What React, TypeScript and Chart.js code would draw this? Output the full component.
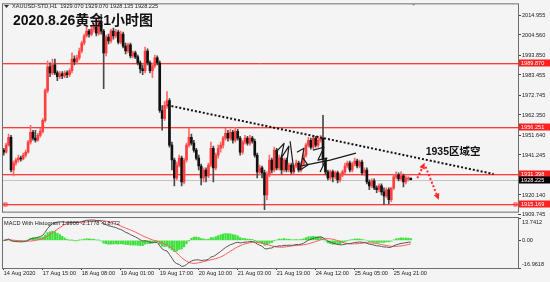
import { useEffect, useRef } from "react";
import { Chart, registerables } from "chart.js";
Chart.register(...registerables);

// ---------- data (XAUUSD H1) ----------
const OPEN = [
  1943.8, 1942.7, 1946.4, 1950.6, 1933.3, 1937.0, 1938.6, 1939.6, 1939.1, 1941.2,
  1942.7, 1948.0, 1953.2, 1950.1, 1949.0, 1951.6, 1953.7, 1959.5, 1975.2, 1987.7,
  1984.6, 1988.8, 1984.6, 1982.5, 1984.1, 1983.0, 1984.6, 1983.6, 1985.7, 1991.9,
  1990.4, 1992.5, 1996.1, 2000.3, 2004.0, 2006.6, 2005.0, 2007.6, 2008.7, 2005.5,
  2011.8, 2006.6, 1995.1, 2003.4, 2001.4, 2006.6, 2004.0, 2006.1, 2000.8, 2005.0,
  1998.7, 1996.1, 1999.3, 1993.5, 1995.1, 1993.0, 1989.8, 1986.7, 1985.7, 1996.1,
  1989.8, 1985.7, 1988.3, 1992.5, 1989.8, 1964.7, 1960.5, 1967.3, 1970.0, 1946.4,
  1938.6, 1929.1, 1935.9, 1939.6, 1927.0, 1938.6, 1946.4, 1950.6, 1947.5, 1943.8,
  1939.6, 1935.4, 1929.1, 1933.3, 1930.2, 1935.9, 1944.8, 1934.4, 1941.2, 1944.8,
  1946.4, 1950.1, 1952.7, 1950.1, 1953.2, 1949.0, 1953.7, 1950.1, 1942.7, 1948.0,
  1950.1, 1947.5, 1950.1, 1948.5, 1941.2, 1932.3, 1934.4, 1931.8, 1920.2, 1930.7,
  1938.6, 1933.3, 1943.8, 1934.4, 1939.6, 1933.3, 1938.6, 1933.3, 1935.9, 1932.3,
  1935.4, 1937.0, 1933.3, 1936.5, 1941.2, 1946.4, 1949.0, 1945.4, 1950.1, 1946.4,
  1949.0, 1950.1, 1938.6, 1932.3, 1929.1, 1932.3, 1929.7, 1931.8, 1928.1, 1930.7,
  1932.3, 1935.4, 1937.0, 1933.3, 1936.5, 1938.0, 1935.4, 1937.5, 1931.8, 1933.3,
  1927.0, 1924.9, 1927.6, 1923.9, 1922.9, 1924.9, 1921.8, 1919.7, 1922.9, 1917.6,
  1923.9, 1929.7, 1930.7, 1928.6, 1930.2, 1927.0, 1928.6, 1929.07,
];
const HIGH = [
  1944.8, 1947.5, 1952.2, 1951.6, 1938.0, 1939.6, 1941.2, 1940.7, 1942.2, 1943.8,
  1949.0, 1956.9, 1954.3, 1954.3, 1952.7, 1955.3, 1960.5, 1976.2, 1990.9, 1989.8,
  1991.9, 1991.9, 1985.7, 1985.2, 1985.2, 1985.7, 1985.7, 1986.7, 1995.1, 1993.5,
  1994.0, 1997.7, 2001.4, 2005.0, 2008.7, 2007.6, 2009.7, 2010.8, 2009.7, 2013.9,
  2015.5, 2007.6, 2004.5, 2005.0, 2007.6, 2008.2, 2007.6, 2007.1, 2006.6, 2006.1,
  2000.3, 2000.3, 2000.3, 1996.1, 1996.1, 1994.0, 1990.9, 1988.8, 1998.2, 1997.2,
  1990.9, 1989.8, 1994.0, 1993.5, 1990.9, 1967.3, 1969.4, 1974.7, 1971.0, 1948.0,
  1939.6, 1937.5, 1941.2, 1940.7, 1939.6, 1947.5, 1955.3, 1952.2, 1949.0, 1944.8,
  1941.2, 1936.5, 1934.4, 1934.4, 1937.0, 1948.0, 1945.9, 1942.2, 1946.4, 1948.0,
  1951.1, 1955.3, 1954.3, 1954.8, 1954.3, 1955.8, 1954.8, 1951.1, 1949.0, 1951.6,
  1951.1, 1951.6, 1951.1, 1949.6, 1942.2, 1935.9, 1935.4, 1933.3, 1932.3, 1941.2,
  1939.6, 1945.4, 1944.8, 1941.2, 1940.7, 1939.6, 1939.6, 1937.0, 1937.0, 1936.5,
  1938.6, 1938.0, 1937.5, 1942.2, 1947.5, 1950.6, 1950.1, 1951.1, 1951.1, 1951.1,
  1951.6, 1962.1, 1939.6, 1933.3, 1933.3, 1933.3, 1932.8, 1932.8, 1931.8, 1933.3,
  1937.0, 1938.0, 1938.0, 1937.5, 1939.6, 1939.1, 1938.6, 1938.6, 1934.4, 1934.4,
  1928.1, 1928.6, 1928.6, 1924.9, 1926.0, 1926.0, 1923.9, 1923.9, 1923.9, 1923.9,
  1930.7, 1932.3, 1931.8, 1932.3, 1931.2, 1930.2, 1929.9, 1929.07,
];
const LOW = [
  1941.2, 1942.2, 1945.9, 1932.3, 1930.2, 1935.9, 1937.5, 1938.0, 1938.6, 1940.1,
  1942.2, 1947.0, 1949.0, 1948.0, 1948.5, 1950.6, 1952.7, 1958.5, 1974.1, 1982.5,
  1983.6, 1983.6, 1980.4, 1981.5, 1981.5, 1982.0, 1982.0, 1982.5, 1984.6, 1988.8,
  1989.3, 1991.4, 1995.1, 1999.3, 2003.4, 2003.4, 2004.0, 2006.1, 2004.0, 2004.5,
  2005.0, 1976.2, 1993.5, 1999.8, 2000.3, 2002.4, 2003.0, 1999.8, 1999.8, 1997.7,
  1994.6, 1995.1, 1992.5, 1992.5, 1992.0, 1988.8, 1984.6, 1983.6, 1984.6, 1988.8,
  1984.6, 1982.0, 1987.2, 1988.8, 1963.7, 1954.3, 1959.5, 1965.8, 1945.4, 1933.3,
  1924.9, 1928.1, 1934.9, 1924.9, 1926.0, 1937.5, 1945.4, 1946.4, 1942.7, 1938.6,
  1933.3, 1925.5, 1927.0, 1927.0, 1929.1, 1934.9, 1927.0, 1933.3, 1939.6, 1942.7,
  1944.8, 1949.0, 1948.5, 1949.0, 1947.5, 1948.0, 1949.0, 1941.2, 1941.7, 1947.0,
  1946.4, 1946.4, 1947.5, 1940.1, 1929.1, 1930.7, 1929.1, 1912.4, 1917.6, 1929.7,
  1931.8, 1932.3, 1933.3, 1933.3, 1931.2, 1932.3, 1932.3, 1932.3, 1931.2, 1931.2,
  1934.4, 1932.3, 1932.3, 1935.4, 1940.1, 1945.4, 1944.3, 1944.3, 1945.4, 1945.4,
  1948.0, 1935.9, 1930.7, 1928.1, 1928.1, 1927.0, 1928.6, 1926.5, 1927.0, 1929.7,
  1931.2, 1934.4, 1932.3, 1932.3, 1935.4, 1934.4, 1934.4, 1930.7, 1930.2, 1926.0,
  1922.9, 1923.9, 1922.9, 1921.3, 1921.8, 1920.2, 1915.0, 1918.7, 1915.5, 1916.6,
  1922.9, 1928.6, 1927.6, 1927.6, 1924.4, 1926.0, 1927.6, 1928.135,
];
const CLOSE = [
  1942.7, 1946.4, 1950.6, 1933.3, 1937.0, 1938.6, 1939.6, 1939.1, 1941.2, 1942.7,
  1948.0, 1953.2, 1950.1, 1949.0, 1951.6, 1953.7, 1959.5, 1975.2, 1987.7, 1984.6,
  1988.8, 1984.6, 1982.5, 1984.1, 1983.0, 1984.6, 1983.6, 1985.7, 1991.9, 1990.4,
  1992.5, 1996.1, 2000.3, 2004.0, 2006.6, 2005.0, 2007.6, 2008.7, 2005.5, 2011.8,
  2006.6, 1995.1, 2003.4, 2001.4, 2006.6, 2004.0, 2006.1, 2000.8, 2005.0, 1998.7,
  1996.1, 1999.3, 1993.5, 1995.1, 1993.0, 1989.8, 1986.7, 1985.7, 1996.1, 1989.8,
  1985.7, 1988.3, 1992.5, 1989.8, 1964.7, 1960.5, 1967.3, 1970.0, 1946.4, 1938.6,
  1929.1, 1935.9, 1939.6, 1927.0, 1938.6, 1946.4, 1950.6, 1947.5, 1943.8, 1939.6,
  1935.4, 1929.1, 1933.3, 1930.2, 1935.9, 1944.8, 1934.4, 1941.2, 1944.8, 1946.4,
  1950.1, 1952.7, 1950.1, 1953.2, 1949.0, 1953.7, 1950.1, 1942.7, 1948.0, 1950.1,
  1947.5, 1950.1, 1948.5, 1941.2, 1932.3, 1934.4, 1931.8, 1920.2, 1930.7, 1938.6,
  1933.3, 1943.8, 1934.4, 1939.6, 1933.3, 1938.6, 1933.3, 1935.9, 1932.3, 1935.4,
  1937.0, 1933.3, 1936.5, 1941.2, 1946.4, 1949.0, 1945.4, 1950.1, 1946.4, 1949.0,
  1950.1, 1938.6, 1932.3, 1929.1, 1932.3, 1929.7, 1931.8, 1928.1, 1930.7, 1932.3,
  1935.4, 1937.0, 1933.3, 1936.5, 1938.0, 1935.4, 1937.5, 1931.8, 1933.3, 1927.0,
  1924.9, 1927.6, 1923.9, 1922.9, 1924.9, 1921.8, 1919.7, 1922.9, 1917.6, 1923.9,
  1929.7, 1930.7, 1928.6, 1930.2, 1927.0, 1929.1, 1929.07, 1928.225,
];

const TIME_LABELS = [
  "14 Aug 2020", "17 Aug 15:00", "18 Aug 08:00", "19 Aug 01:00", "19 Aug 17:00",
  "20 Aug 10:00", "21 Aug 03:00", "21 Aug 19:00", "24 Aug 12:00", "25 Aug 05:00", "25 Aug 21:00",
];
const TIME_TICK_BARS = [0, 16, 32, 48, 64, 80, 96, 112, 128, 144, 160];

const PRICE_TICKS = [2014.955, 2004.56, 1993.85, 1983.455, 1972.745, 1962.35, 1951.64, 1941.245, 1920.14, 1909.745];
const LEVEL_PRICES = [1989.87, 1956.251, 1931.398, 1915.169];
const BID_PRICE = 1928.225;

const MACD_MAX = 13.7412;
const MACD_MIN = -16.9618;
const MACD_TICKS = [13.7412, 0, -16.9618];
const MACD_TICK_LABELS = ["13.7412", "0.00", "-16.9618"];

const TREND_BARS = [67.2, 201.0];
const TREND_PRICES = [1967.5, 1931.2];
const ARROW_UP_BARS = [169.7, 172.7];
const ARROW_UP_PRICES = [1929.0, 1937.1];
const ARROW_DOWN_BARS = [173.1, 178.5];
const ARROW_DOWN_PRICES = [1935.0, 1917.6];
const NOTE_BAR = 173.1;
const NOTE_PRICE = 1942.7;

// handwritten signature watermark, in (bar, price) units
const SIGN_STROKES = [
  [[111.7, 1942.7], [115.0, 1947.4], [113.8, 1939.6], [117.0, 1945.9], [115.8, 1933.3]],
  [[117.5, 1948.5], [119.1, 1932.3]],
  [[120.3, 1942.7], [123.2, 1944.8], [121.6, 1933.3], [124.8, 1935.9], [122.8, 1939.6]],
  [[126.9, 1943.8], [131.4, 1945.3], [128.9, 1938.5], [132.6, 1939.6], [129.8, 1932.3]],
  [[121.6, 1935.4], [133.9, 1938.5], [144.5, 1942.2]],
];

const TITLE = "2020.8.26黄金1小时图";
const NOTE = "1935区域空";
const HEADER = "XAUUSD-STD,H1  1929.070 1929.070 1928.135 1928.225";
const MACD_CAPTION = "MACD With Histogram 1.2906 -2.1778 -0.8772";

// ---------- indicator (MACD 12,26,9) derived from the closes ----------
function ema(src: number[], n: number) {
  const k = 2 / (n + 1);
  const out: number[] = [];
  src.forEach((v, i) => out.push(i === 0 ? v : v * k + out[i - 1] * (1 - k)));
  return out;
}
function sma(src: number[], n: number) {
  return src.map((_, i) => {
    const s = src.slice(Math.max(0, i - n + 1), i + 1);
    return s.reduce((a, b) => a + b, 0) / s.length;
  });
}
const EMA_FAST = ema(CLOSE, 12);
const EMA_SLOW = ema(CLOSE, 26);
const MACD = CLOSE.map((_, i) => EMA_FAST[i] - EMA_SLOW[i]);
const SIGNAL = sma(MACD, 9);
const HIST = MACD.map((m, i) => m - SIGNAL[i]);

const X_MIN = -0.3;
const X_MAX = 211;
const FONT = "'Liberation Sans', Arial, sans-serif";
const CJK = "'Liberation Sans', 'Noto Sans CJK SC', sans-serif";
const SMALL = 5.6;

function hline(ctx: CanvasRenderingContext2D, a: any, py: number) {
  const yy = Math.round(py) + 0.5;
  ctx.beginPath();
  ctx.moveTo(a.left, yy);
  ctx.lineTo(a.right, yy);
  ctx.stroke();
}
function arrow(ctx: CanvasRenderingContext2D, x1: number, y1: number, x2: number, y2: number, color: string) {
  const ang = Math.atan2(y2 - y1, x2 - x1);
  const len = 6;
  const bx = x2 - len * Math.cos(ang);
  const by = y2 - len * Math.sin(ang);
  ctx.save();
  ctx.strokeStyle = color;
  ctx.lineWidth = 2;
  ctx.setLineDash([2, 2]);
  ctx.beginPath();
  ctx.moveTo(x1, y1);
  ctx.lineTo(bx, by);
  ctx.stroke();
  ctx.setLineDash([]);
  ctx.fillStyle = color;
  ctx.beginPath();
  ctx.moveTo(x2, y2);
  ctx.lineTo(bx + 3 * Math.sin(ang), by - 3 * Math.cos(ang));
  ctx.lineTo(bx - 3 * Math.sin(ang), by + 3 * Math.cos(ang));
  ctx.closePath();
  ctx.fill();
  ctx.restore();
}

const mainDecor = {
  id: "mainDecor",
  beforeDatasetsDraw(chart: any) {
    const { ctx, chartArea: a, scales } = chart;
    const y = scales.y;
    ctx.save();
    ctx.lineWidth = 1;
    ctx.strokeStyle = "#c4c4c4";
    hline(ctx, a, y.getPixelForValue(BID_PRICE));
    LEVEL_PRICES.forEach((p) => {
      const py = y.getPixelForValue(p);
      ctx.strokeStyle = "#ffb4b4";
      hline(ctx, a, py + 1);
      ctx.strokeStyle = "#ff3c3c";
      hline(ctx, a, py);
    });
    ctx.strokeStyle = "#ff3c3c";
    const ly = Math.round(y.getPixelForValue(LEVEL_PRICES[3])) + 0.5;
    ctx.strokeRect(a.left + 1, ly - 1.5, 3, 3);
    ctx.strokeRect(a.right - 4, ly - 1.5, 3, 3);
    ctx.restore();
  },
  afterDatasetsDraw(chart: any) {
    const { ctx, scales } = chart;
    const x = scales.x;
    const y = scales.y;
    ctx.save();
    ctx.strokeStyle = "#1a1a1a";
    ctx.lineWidth = 1.2;
    ctx.lineJoin = "round";
    SIGN_STROKES.forEach((st) => {
      ctx.beginPath();
      st.forEach(([b, p], k) => {
        const px = x.getPixelForValue(b);
        const py = y.getPixelForValue(p);
        if (k === 0) ctx.moveTo(px, py); else ctx.lineTo(px, py);
      });
      ctx.stroke();
    });
    ctx.strokeStyle = "#111";
    ctx.lineWidth = 2;
    ctx.setLineDash([2, 2]);
    ctx.beginPath();
    ctx.moveTo(x.getPixelForValue(TREND_BARS[0]), y.getPixelForValue(TREND_PRICES[0]));
    ctx.lineTo(x.getPixelForValue(TREND_BARS[1]), y.getPixelForValue(TREND_PRICES[1]));
    ctx.stroke();
    ctx.setLineDash([]);
    arrow(ctx, x.getPixelForValue(ARROW_UP_BARS[0]), y.getPixelForValue(ARROW_UP_PRICES[0]),
      x.getPixelForValue(ARROW_UP_BARS[1]), y.getPixelForValue(ARROW_UP_PRICES[1]), "#ff2a2a");
    arrow(ctx, x.getPixelForValue(ARROW_DOWN_BARS[0]), y.getPixelForValue(ARROW_DOWN_PRICES[0]),
      x.getPixelForValue(ARROW_DOWN_BARS[1]), y.getPixelForValue(ARROW_DOWN_PRICES[1]), "#ff2a2a");
    ctx.fillStyle = "#111";
    ctx.font = `bold 10.5px ${CJK}`;
    ctx.textBaseline = "middle";
    ctx.textAlign = "left";
    ctx.fillText(NOTE, x.getPixelForValue(NOTE_BAR), y.getPixelForValue(NOTE_PRICE));
    ctx.restore();
  },
  afterDraw(chart: any) {
    const { ctx, chartArea: a, scales, width } = chart;
    const y = scales.y;
    ctx.save();
    ctx.strokeStyle = "#6e6e6e";
    ctx.lineWidth = 1;
    ctx.strokeRect(a.left - 0.5, a.top - 0.5, a.right - a.left + 1, a.bottom - a.top + 1);
    ctx.font = `${SMALL}px ${FONT}`;
    ctx.textBaseline = "middle";
    ctx.textAlign = "left";
    const box = (p: number, bg: string) => {
      const py = Math.round(y.getPixelForValue(p));
      ctx.fillStyle = bg;
      ctx.fillRect(a.right + 1, py - 3.5, width - a.right - 1, 7);
      ctx.fillStyle = "#fff";
      ctx.fillText(p.toFixed(3), a.right + 3, py + 0.5);
    };
    LEVEL_PRICES.forEach((p) => box(p, "#ff2020"));
    box(BID_PRICE, "#000");
    ctx.fillStyle = "#333";
    ctx.beginPath();
    ctx.moveTo(4, 5);
    ctx.lineTo(9, 5);
    ctx.lineTo(6.5, 8);
    ctx.closePath();
    ctx.fill();
    ctx.fillStyle = "#222";
    ctx.fillText(HEADER, 12, 6.5);
    ctx.fillStyle = "#999";
    ctx.beginPath();
    ctx.moveTo(411, 3);
    ctx.lineTo(416, 3);
    ctx.lineTo(413.5, 6);
    ctx.closePath();
    ctx.fill();
    ctx.fillStyle = "#111";
    ctx.font = `bold 14px ${CJK}`;
    ctx.fillText(TITLE, 13, 21.5);
    ctx.restore();
  },
};

const macdDecor = {
  id: "macdDecor",
  afterDraw(chart: any) {
    const { ctx, chartArea: a, scales } = chart;
    const y = scales.y;
    ctx.save();
    ctx.strokeStyle = "#6e6e6e";
    ctx.lineWidth = 1;
    ctx.strokeRect(a.left - 0.5, a.top - 0.5, a.right - a.left + 1, a.bottom - a.top + 1);
    ctx.fillStyle = "#222";
    ctx.font = `${SMALL}px ${FONT}`;
    ctx.textBaseline = "middle";
    ctx.textAlign = "left";
    ctx.fillText(MACD_CAPTION, a.left + 1, a.top + 5);
    MACD_TICKS.forEach((v, i) => {
      let py = y.getPixelForValue(v);
      if (i === 0) py += 4;
      if (i === MACD_TICKS.length - 1) py -= 4;
      ctx.fillText(MACD_TICK_LABELS[i], a.right + 4, py);
    });
    ctx.restore();
  },
};

export default function App() {
  const mainRef = useRef<HTMLCanvasElement>(null);
  const macdRef = useRef<HTMLCanvasElement>(null);

  useEffect(() => {
    const up = CLOSE.map((c, i) => c >= OPEN[i]);
    const tickFont = { size: SMALL, family: FONT };
    const main = new Chart(mainRef.current as HTMLCanvasElement, {
      type: "bar",
      data: {
        datasets: [
          {
            data: CLOSE.map((_, i) => ({ x: i, y: [LOW[i], HIGH[i]] })) as any,
            backgroundColor: up.map((u) => (u ? "#ff6a6a" : "#4a4a4a")),
            barThickness: 1,
            grouped: false,
            order: 2,
          } as any,
          {
            data: CLOSE.map((c, i) => ({ x: i, y: [OPEN[i], c] })) as any,
            backgroundColor: up.map((u) => (u ? "#ff4040" : "#111111")),
            barThickness: 2,
            minBarLength: 1,
            grouped: false,
            order: 1,
          } as any,
        ],
      },
      options: {
        responsive: false,
        animation: false,
        devicePixelRatio: 1,
        layout: { padding: { left: 3, top: 3, right: 0, bottom: 4 } },
        plugins: { legend: { display: false }, tooltip: { enabled: false } },
        scales: {
          x: { type: "linear", min: X_MIN, max: X_MAX, offset: false, display: false },
          y: {
            position: "right",
            min: 1911.34,
            max: 2020.71,
            afterFit: (s: any) => { s.width = 32; },
            afterBuildTicks: (s: any) => { s.ticks = PRICE_TICKS.map((v) => ({ value: v })); },
            ticks: { font: tickFont, color: "#222", padding: 1, autoSkip: false, callback: (v: any) => Number(v).toFixed(3) },
            grid: { drawOnChartArea: false, tickLength: 3, color: "#444" },
            border: { display: false },
          } as any,
        },
      },
      plugins: [mainDecor],
    });

    const macd = new Chart(macdRef.current as HTMLCanvasElement, {
      type: "bar",
      data: {
        datasets: [
          {
            type: "bar",
            data: HIST.map((h, i) => ({ x: i, y: h })),
            backgroundColor: "#3ce23c",
            barThickness: 1.6,
            grouped: false,
            order: 3,
          } as any,
          {
            type: "line",
            data: SIGNAL.map((s, i) => ({ x: i, y: s })),
            borderColor: "#ff5a5a",
            borderWidth: 1,
            pointRadius: 0,
            order: 2,
          } as any,
          {
            type: "line",
            data: MACD.map((m, i) => ({ x: i, y: m })),
            borderColor: "#555555",
            borderWidth: 1,
            pointRadius: 0,
            order: 1,
          } as any,
        ],
      },
      options: {
        responsive: false,
        animation: false,
        devicePixelRatio: 1,
        layout: { padding: { left: 3, top: 2, right: 0, bottom: 0 } },
        plugins: { legend: { display: false }, tooltip: { enabled: false } },
        scales: {
          x: {
            type: "linear",
            min: X_MIN,
            max: X_MAX,
            offset: false,
            afterFit: (s: any) => { s.height = 14; },
            afterBuildTicks: (s: any) => { s.ticks = TIME_TICK_BARS.map((v) => ({ value: v })); },
            ticks: {
              font: tickFont, color: "#222", padding: 0, align: "start", maxRotation: 0, minRotation: 0, autoSkip: false,
              callback: (_v: any, i: number) => TIME_LABELS[i],
            },
            grid: { drawOnChartArea: false, tickLength: 2, color: "#444", offset: false },
            border: { display: false },
          } as any,
          y: {
            position: "right",
            min: MACD_MIN,
            max: MACD_MAX,
            afterFit: (s: any) => { s.width = 32; },
            afterBuildTicks: (s: any) => { s.ticks = MACD_TICKS.map((v) => ({ value: v })); },
            ticks: { display: false },
            grid: { drawOnChartArea: false, tickLength: 3, color: "#444" },
            border: { display: false },
          } as any,
        },
      },
      plugins: [macdDecor],
    });

    return () => {
      main.destroy();
      macd.destroy();
    };
  }, []);

  return (
    <div style={{ position: "fixed", left: 0, top: 0, width: 550, height: 282, background: "#f4f4f4", overflow: "hidden" }}>
      <canvas ref={mainRef} width={550} height={216} style={{ position: "absolute", left: 0, top: 0 }} />
      <canvas ref={macdRef} width={550} height={66} style={{ position: "absolute", left: 0, top: 216 }} />
    </div>
  );
}
